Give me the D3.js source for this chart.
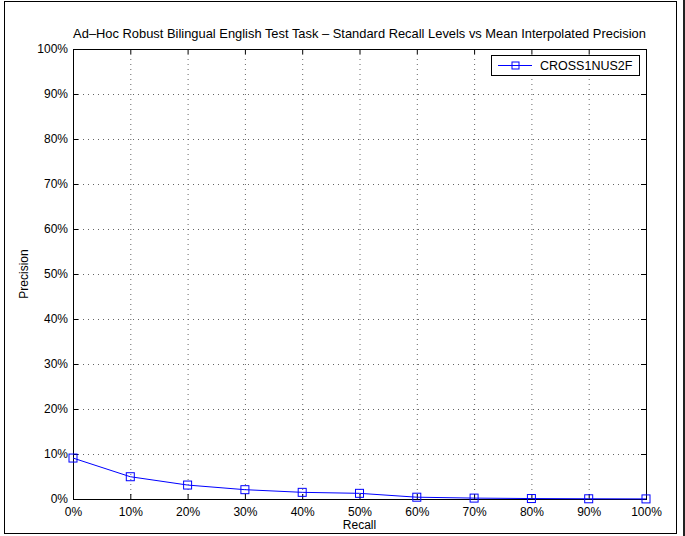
<!DOCTYPE html>
<html>
<head>
<meta charset="utf-8">
<script src="https://cdn.jsdelivr.net/npm/d3@7"></script>
<style>
  body { margin: 0; background: #fff; }
  text { font-family: "Liberation Sans", Arial, sans-serif; }
</style>
</head>
<body>
<div id="chart"></div>
<script>
// Data
const recall = [0, 0.1, 0.2, 0.3, 0.4, 0.5, 0.6, 0.7, 0.8, 0.9, 1.0];
const precision = [0.091, 0.0495, 0.031, 0.0207, 0.0148, 0.0126, 0.004, 0.002, 0.001, 0.0005, 0.0002];
const seriesName = "CROSS1NUS2F";
const xTicks = [0, 0.1, 0.2, 0.3, 0.4, 0.5, 0.6, 0.7, 0.8, 0.9, 1.0];
const yTicks = [0, 0.1, 0.2, 0.3, 0.4, 0.5, 0.6, 0.7, 0.8, 0.9, 1.0];

const W = 685, H = 536;
const margin = { top: 49, right: 39, bottom: 37, left: 73 };
const width = W - margin.left - margin.right;
const height = H - margin.top - margin.bottom;
const fmt = d3.format(".0%");

const svg = d3.select("#chart")
  .append("svg")
  .attr("width", W)
  .attr("height", H);

// outer frame
svg.append("rect")
  .attr("x", 4.5).attr("y", 1.5)
  .attr("width", 672).attr("height", 532)
  .attr("fill", "none").attr("stroke", "#000").attr("stroke-width", 1);
svg.append("rect")
  .attr("x", 683).attr("y", 0).attr("width", 2).attr("height", H)
  .attr("fill", "#222");

const g = svg.append("g")
  .attr("transform", `translate(${margin.left},${margin.top})`);

const x = d3.scaleLinear().domain([0, 1]).range([0, width]);
const y = d3.scaleLinear().domain([0, 1]).range([height, 0]);

// grid
g.append("g").selectAll("line")
  .data(xTicks.slice(1, -1))
  .enter().append("line")
  .attr("x1", d => x(d) + 0.5).attr("x2", d => x(d) + 0.5)
  .attr("y1", 0).attr("y2", height)
  .attr("stroke", "#666").attr("stroke-width", 1)
  .attr("stroke-dasharray", "1,4");
g.append("g").selectAll("line")
  .data(yTicks.slice(1, -1))
  .enter().append("line")
  .attr("y1", d => y(d) + 0.5).attr("y2", d => y(d) + 0.5)
  .attr("x1", 0).attr("x2", width)
  .attr("stroke", "#666").attr("stroke-width", 1)
  .attr("stroke-dasharray", "1,4");

// axes
const axisStyle = sel => {
  sel.select(".domain").remove();
  sel.selectAll("line").attr("stroke", "#000");
  sel.selectAll("text").attr("font-size", 12).attr("fill", "#000");
};
g.append("g")
  .attr("transform", `translate(0,${height})`)
  .call(d3.axisBottom(x).tickValues(xTicks).tickFormat(fmt).tickSizeInner(-5).tickPadding(8))
  .call(axisStyle);
g.append("g")
  .call(d3.axisLeft(y).tickValues(yTicks).tickFormat(fmt).tickSizeInner(-5).tickPadding(5))
  .call(axisStyle);
g.append("g")
  .call(d3.axisTop(x).tickValues(xTicks).tickFormat("").tickSizeInner(-5))
  .call(axisStyle);
g.append("g")
  .attr("transform", `translate(${width},0)`)
  .call(d3.axisRight(y).tickValues(yTicks).tickFormat("").tickSizeInner(-5))
  .call(axisStyle);

g.append("rect")
  .attr("x", 0.5).attr("y", 0.5)
  .attr("width", width).attr("height", height)
  .attr("fill", "none").attr("stroke", "#000").attr("stroke-width", 1);

// line + markers
const pts = recall.map((r, i) => [r, precision[i]]);
g.append("path")
  .datum(pts)
  .attr("fill", "none")
  .attr("stroke", "#0000ff")
  .attr("stroke-width", 1)
  .attr("d", d3.line().x(d => x(d[0])).y(d => y(d[1])));
g.append("g").selectAll("rect")
  .data(pts)
  .enter().append("rect")
  .attr("x", d => x(d[0]) - 4).attr("y", d => y(d[1]) - 4)
  .attr("width", 8).attr("height", 8)
  .attr("fill", "none").attr("stroke", "#0000ff").attr("stroke-width", 1);

// title and labels
svg.append("text")
  .attr("x", margin.left + width / 2).attr("y", 38)
  .attr("text-anchor", "middle").attr("font-size", 12.9)
  .text("Ad\u2013Hoc Robust Bilingual English Test Task \u2013 Standard Recall Levels vs Mean Interpolated Precision");
svg.append("text")
  .attr("x", margin.left + width / 2).attr("y", 529)
  .attr("text-anchor", "middle").attr("font-size", 12)
  .text("Recall");
svg.append("text")
  .attr("transform", `translate(28,${margin.top + height / 2}) rotate(-90)`)
  .attr("text-anchor", "middle").attr("font-size", 12)
  .text("Precision");

// legend
const leg = svg.append("g").attr("transform", "translate(491,55)");
leg.append("rect")
  .attr("x", 0.5).attr("y", 0.5).attr("width", 148).attr("height", 20)
  .attr("fill", "#fff").attr("stroke", "#000").attr("stroke-width", 1);
leg.append("line")
  .attr("x1", 7).attr("x2", 41).attr("y1", 10.5).attr("y2", 10.5)
  .attr("stroke", "#0000ff").attr("stroke-width", 1);
leg.append("rect")
  .attr("x", 21).attr("y", 7).attr("width", 7).attr("height", 7)
  .attr("fill", "none").attr("stroke", "#0000ff");
leg.append("text")
  .attr("x", 49).attr("y", 15).attr("font-size", 12.5)
  .text(seriesName);
</script>
</body>
</html>
